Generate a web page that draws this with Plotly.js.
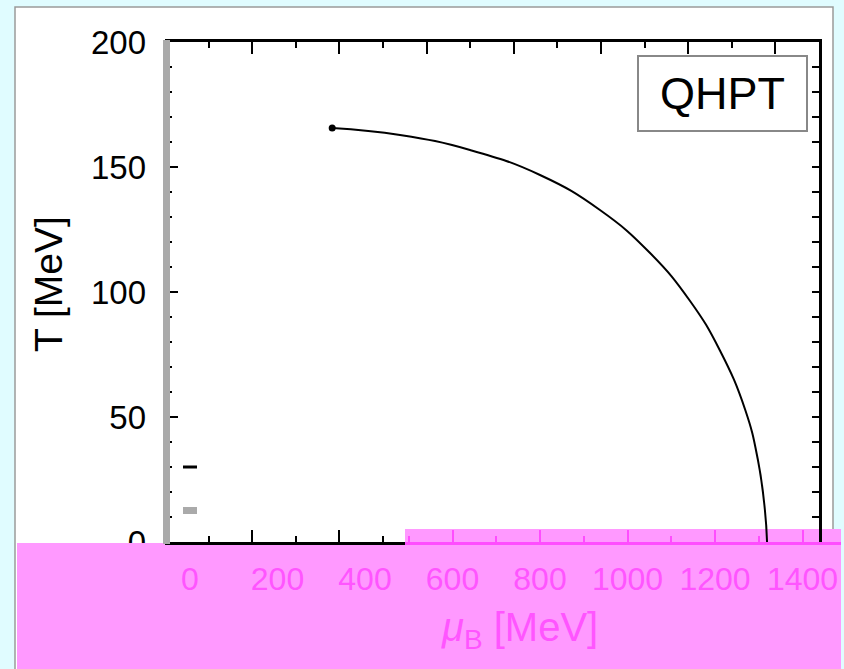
<!DOCTYPE html>
<html>
<head>
<meta charset="utf-8">
<script src="https://cdn.plot.ly/plotly-3.0.1.min.js"></script>
<style>html,body{margin:0;padding:0;background:#e0fcff;}#chart{width:844px;height:669px;}</style>
</head>
<body>
<div id="chart"></div>
<script>
// Data (x in MeV on the labelled axis, T in MeV)
const muB = [325, 480, 640, 800, 937, 1051, 1143, 1211, 1269, 1298, 1314, 1319];
const temperature = [165.6, 162.8, 156.8, 146.8, 132.8, 115.7, 96.4, 76.7, 52.9, 32.9, 12.9, 0];
const xTickVals = [0, 200, 400, 600, 800, 1000, 1200, 1400];
const xTickText = ["0", "200", "400", "600", "800", "1000", "1200", "1400"];
const yTickVals = [0, 50, 100, 150, 200];
const yTickText = ["0", "50", "100", "150", "200"];
const boxLabel = "QHPT";
const xTitle = "<i>μ</i><sub>B</sub> [MeV]";
const yTitle = "T [MeV]";

const W = 844, H = 669;
const fx = p => p / W;
const fy = p => 1 - p / H;
const PINK = "#ff99ff", PINKTXT = "#ff55ff", PINKLINE = "#ff4dff";
const FONT = "Liberation Sans, Arial, sans-serif";

// plot frame pixels
const L = 165, R = 819, T = 42, B = 542;
const pinkScale = 87.5 / 200;   // px per MeV on pink labelled axis
const pinkZero = 190;
const blackScale = (R - L) / 1500;

const traces = [
  {x: muB, y: temperature, xaxis: "x", yaxis: "y", mode: "lines", type: "scatter",
   line: {color: "#000", width: 2, shape: "spline", smoothing: 1.3}, hoverinfo: "skip", showlegend: false},
  {x: [muB[0]], y: [temperature[0]], xaxis: "x", yaxis: "y", mode: "markers", type: "scatter",
   marker: {color: "#000", size: 7}, hoverinfo: "skip", showlegend: false},
  {x: [], y: [], xaxis: "x2", yaxis: "y", type: "scatter", showlegend: false},
  {x: [], y: [], xaxis: "x3", yaxis: "y", type: "scatter", showlegend: false},
  {x: [], y: [], xaxis: "x4", yaxis: "y", type: "scatter", showlegend: false},
  {x: [], y: [], xaxis: "x", yaxis: "y2", type: "scatter", showlegend: false}
];

const layout = {
  width: W, height: H, autosize: false,
  margin: {l: 0, r: 0, t: 0, b: 0, pad: 0},
  paper_bgcolor: "#e0fcff", plot_bgcolor: "rgba(0,0,0,0)",
  showlegend: false,
  xaxis: {
    domain: [fx(L), fx(R)], anchor: "y",
    range: [(L - pinkZero) / pinkScale, (R - pinkZero) / pinkScale],
    showgrid: false, zeroline: false, showline: false, ticks: "",
    tickmode: "array", tickvals: xTickVals, ticktext: xTickText,
    tickfont: {family: FONT, size: 32, color: PINKTXT}, ticklabelstandoff: 15
  },
  xaxis2: {
    domain: [fx(L), fx(R)], anchor: "y", side: "top", range: [0, 1500],
    showgrid: false, zeroline: false, showline: true, linecolor: "#000", linewidth: 3,
    ticks: "inside", ticklen: 12, tickwidth: 2, tickcolor: "#000", dtick: 200, tick0: 0,
    minor: {ticks: "inside", ticklen: 6, tickwidth: 2, tickcolor: "#000", dtick: 100},
    showticklabels: false
  },
  xaxis3: {
    domain: [fx(L), fx(405)], anchor: "y", side: "bottom", range: [0, (405 - L) / blackScale],
    showgrid: false, zeroline: false, showline: true, linecolor: "#000", linewidth: 2.5,
    ticks: "inside", ticklen: 12, tickwidth: 2, tickcolor: "#000", dtick: 200, tick0: 0,
    minor: {ticks: "inside", ticklen: 6, tickwidth: 2, tickcolor: "#000", dtick: 100},
    showticklabels: false
  },
  xaxis4: {
    domain: [fx(405), fx(841)], anchor: "y", side: "bottom",
    range: [(405 - pinkZero) / pinkScale, (841 - pinkZero) / pinkScale],
    showgrid: false, zeroline: false, showline: true, linecolor: PINKLINE, linewidth: 2.5,
    ticks: "inside", ticklen: 12, tickwidth: 2, tickcolor: PINKLINE, dtick: 200, tick0: 0,
    minor: {ticks: "inside", ticklen: 6, tickwidth: 2, tickcolor: PINKLINE, dtick: 100},
    showticklabels: false
  },
  yaxis: {
    domain: [fy(B), fy(T)], anchor: "x", range: [0, 200],
    showgrid: false, zeroline: false, showline: false,
    tickmode: "array", tickvals: yTickVals, ticktext: yTickText,
    ticks: "inside", ticklen: 13, tickwidth: 2, tickcolor: "#000",
    minor: {ticks: "inside", ticklen: 7, tickwidth: 2, tickcolor: "#000", dtick: 10},
    tickfont: {family: FONT, size: 33, color: "#000"}, ticklabelstandoff: 18
  },
  yaxis2: {
    overlaying: "y", side: "right", anchor: "x", range: [0, 200],
    showgrid: false, zeroline: false, showline: true, linecolor: "#000", linewidth: 3,
    ticks: "inside", ticklen: 7, tickwidth: 2, tickcolor: "#000", dtick: 10, tick0: 0,
    showticklabels: false
  },
  shapes: [
    {type: "rect", xref: "paper", yref: "paper", x0: fx(15), x1: fx(833), y0: fy(7), y1: -0.02,
     fillcolor: "#ffffff", line: {color: "#9a9a9a", width: 1.5}, layer: "below"},
    {type: "rect", xref: "paper", yref: "paper", x0: fx(17), x1: fx(841), y0: fy(543), y1: -0.02,
     fillcolor: PINK, line: {width: 0}, layer: "below"},
    {type: "rect", xref: "paper", yref: "paper", x0: fx(405), x1: fx(841), y0: fy(529), y1: fy(543),
     fillcolor: PINK, line: {width: 0}, layer: "below"},
    {type: "rect", xref: "paper", yref: "paper", x0: fx(17), x1: fx(160), y0: fy(543), y1: fy(565),
     fillcolor: PINK, line: {width: 0}, layer: "above"},
    {type: "rect", xref: "paper", yref: "paper", x0: fx(163), x1: fx(170), y0: fy(40), y1: fy(544),
     fillcolor: "#aaaaaa", line: {width: 0}, layer: "above"},
    {type: "line", xref: "paper", yref: "paper", x0: fx(183), x1: fx(197), y0: fy(467), y1: fy(467),
     line: {color: "#000", width: 3}, layer: "above"},
    {type: "rect", xref: "paper", yref: "paper", x0: fx(183), x1: fx(197), y0: fy(507), y1: fy(514),
     fillcolor: "#aaaaaa", line: {width: 0}, layer: "above"}
  ],
  annotations: [
    {xref: "paper", yref: "paper", x: fx(722.5), y: fy(93.5), xanchor: "center", yanchor: "middle",
     text: boxLabel, showarrow: false, font: {family: FONT, size: 45, color: "#000"},
     bgcolor: "#ffffff", bordercolor: "#888888", borderwidth: 2, borderpad: 0, width: 167, height: 73},
    {xref: "paper", yref: "paper", x: fx(519), y: fy(630), xanchor: "center", yanchor: "middle",
     text: xTitle, showarrow: false, font: {family: FONT, size: 40, color: PINKTXT}},
    {xref: "paper", yref: "paper", x: fx(48), y: fy(284), xanchor: "center", yanchor: "middle",
     text: yTitle, textangle: -90, showarrow: false, font: {family: FONT, size: 39, color: "#000"}}
  ]
};

Plotly.newPlot("chart", traces, layout, {displayModeBar: false, staticPlot: true});
</script>
</body>
</html>
